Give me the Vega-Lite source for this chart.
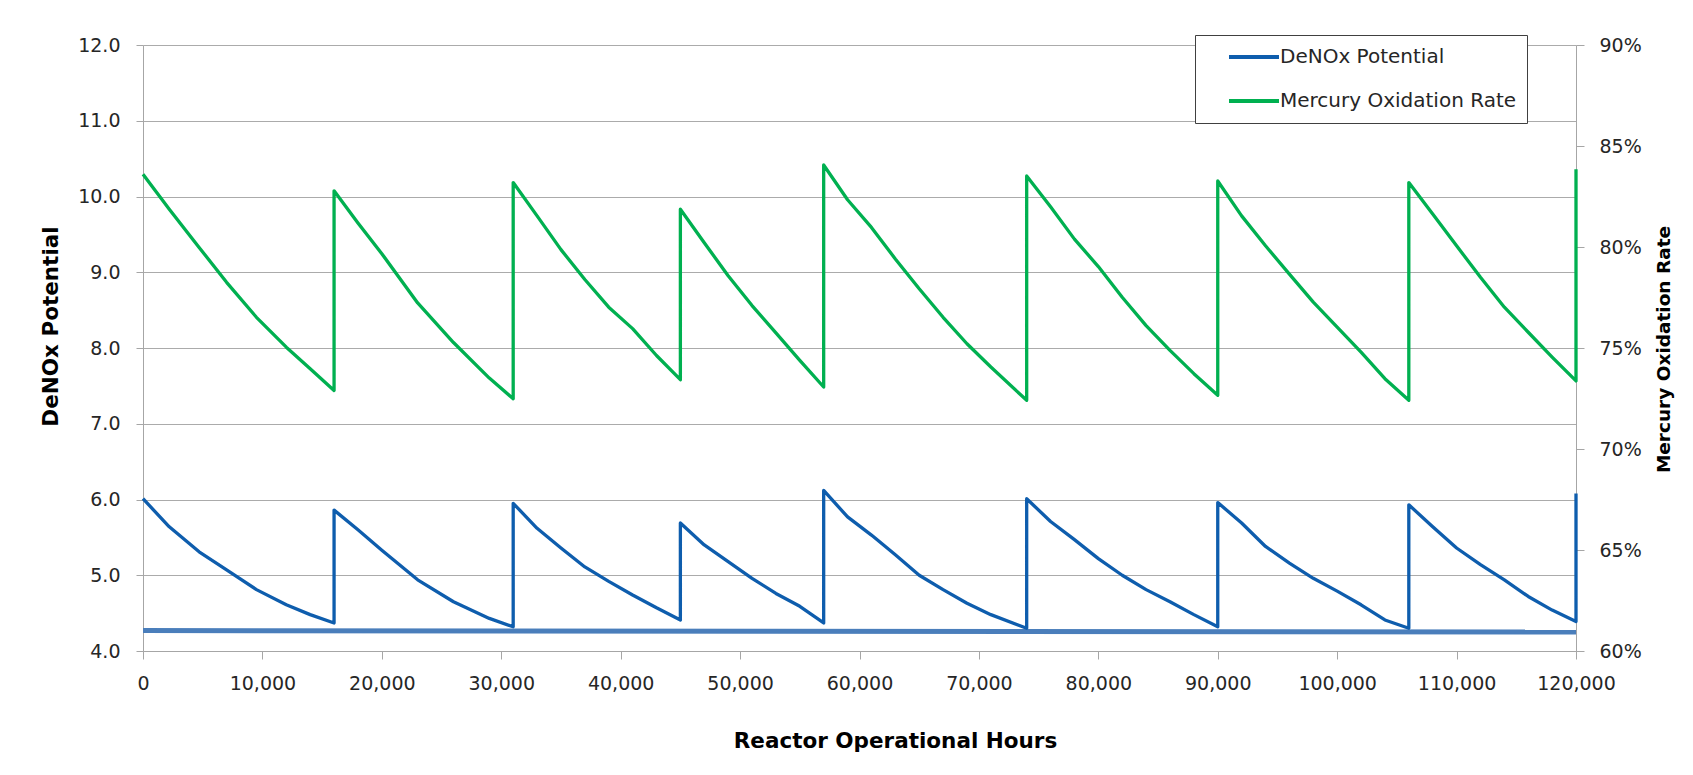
{
  "$schema": "https://vega.github.io/schema/vega-lite/v6.json",
  "width": 1433,
  "height": 606,
  "autosize": {"type": "none"},
  "padding": {"left": 143, "top": 45, "right": 117, "bottom": 124},
  "background": "white",
  "config": {
    "view": {"stroke": null},
    "font": "DejaVu Sans",
    "axis": {
      "labelFont": "DejaVu Sans",
      "labelFontSize": 19,
      "labelColor": "#262626",
      "titleFont": "DejaVu Sans",
      "titleFontSize": 21.5,
      "titleFontWeight": "bold",
      "titleColor": "#000000",
      "domainColor": "#A6A6A6",
      "tickColor": "#A6A6A6",
      "gridColor": "#ABABAB",
      "domainWidth": 1,
      "tickWidth": 1,
      "gridWidth": 1
    }
  },
  "datasets": {
    "denox": [
      {"i": 1, "hours": 0, "value": 6.01},
      {"i": 2, "hours": 2200, "value": 5.64},
      {"i": 3, "hours": 4700, "value": 5.31},
      {"i": 4, "hours": 7000, "value": 5.07},
      {"i": 5, "hours": 9500, "value": 4.81},
      {"i": 6, "hours": 12000, "value": 4.61},
      {"i": 7, "hours": 14000, "value": 4.48},
      {"i": 8, "hours": 16000, "value": 4.37},
      {"i": 9, "hours": 16000, "value": 5.86},
      {"i": 10, "hours": 18000, "value": 5.6},
      {"i": 11, "hours": 20000, "value": 5.33},
      {"i": 12, "hours": 23000, "value": 4.94},
      {"i": 13, "hours": 26000, "value": 4.65},
      {"i": 14, "hours": 29000, "value": 4.43},
      {"i": 15, "hours": 31000, "value": 4.32},
      {"i": 16, "hours": 31000, "value": 5.95},
      {"i": 17, "hours": 33000, "value": 5.62},
      {"i": 18, "hours": 35000, "value": 5.36},
      {"i": 19, "hours": 37000, "value": 5.11},
      {"i": 20, "hours": 39000, "value": 4.92},
      {"i": 21, "hours": 41000, "value": 4.74},
      {"i": 22, "hours": 43000, "value": 4.57},
      {"i": 23, "hours": 45000, "value": 4.41},
      {"i": 24, "hours": 45000, "value": 5.69},
      {"i": 25, "hours": 47000, "value": 5.4},
      {"i": 26, "hours": 49000, "value": 5.18},
      {"i": 27, "hours": 51000, "value": 4.96},
      {"i": 28, "hours": 53000, "value": 4.76},
      {"i": 29, "hours": 55000, "value": 4.59},
      {"i": 30, "hours": 57000, "value": 4.37},
      {"i": 31, "hours": 57000, "value": 6.12},
      {"i": 32, "hours": 59000, "value": 5.77},
      {"i": 33, "hours": 61000, "value": 5.53},
      {"i": 34, "hours": 63000, "value": 5.27},
      {"i": 35, "hours": 65000, "value": 5.0},
      {"i": 36, "hours": 67000, "value": 4.81},
      {"i": 37, "hours": 69000, "value": 4.63},
      {"i": 38, "hours": 71000, "value": 4.48},
      {"i": 39, "hours": 74000, "value": 4.3},
      {"i": 40, "hours": 74000, "value": 6.01},
      {"i": 41, "hours": 76000, "value": 5.71},
      {"i": 42, "hours": 78000, "value": 5.47},
      {"i": 43, "hours": 80000, "value": 5.22},
      {"i": 44, "hours": 82000, "value": 5.0},
      {"i": 45, "hours": 84000, "value": 4.81},
      {"i": 46, "hours": 86000, "value": 4.65},
      {"i": 47, "hours": 88000, "value": 4.48},
      {"i": 48, "hours": 90000, "value": 4.32},
      {"i": 49, "hours": 90000, "value": 5.96},
      {"i": 50, "hours": 92000, "value": 5.69},
      {"i": 51, "hours": 94000, "value": 5.38},
      {"i": 52, "hours": 96000, "value": 5.16},
      {"i": 53, "hours": 98000, "value": 4.96},
      {"i": 54, "hours": 100000, "value": 4.79},
      {"i": 55, "hours": 102000, "value": 4.61},
      {"i": 56, "hours": 104000, "value": 4.41},
      {"i": 57, "hours": 106000, "value": 4.3},
      {"i": 58, "hours": 106000, "value": 5.93},
      {"i": 59, "hours": 108000, "value": 5.64},
      {"i": 60, "hours": 110000, "value": 5.36},
      {"i": 61, "hours": 112000, "value": 5.14},
      {"i": 62, "hours": 114000, "value": 4.94},
      {"i": 63, "hours": 116000, "value": 4.72},
      {"i": 64, "hours": 118000, "value": 4.54},
      {"i": 65, "hours": 120000, "value": 4.39},
      {"i": 66, "hours": 120000, "value": 6.08}
    ],
    "mercury": [
      {"i": 1, "hours": 0, "rate": 0.836},
      {"i": 2, "hours": 2200, "rate": 0.8187},
      {"i": 3, "hours": 4700, "rate": 0.7998},
      {"i": 4, "hours": 7000, "rate": 0.7825},
      {"i": 5, "hours": 9500, "rate": 0.7652},
      {"i": 6, "hours": 12000, "rate": 0.7504},
      {"i": 7, "hours": 14000, "rate": 0.7397},
      {"i": 8, "hours": 16000, "rate": 0.729},
      {"i": 9, "hours": 16000, "rate": 0.8278},
      {"i": 10, "hours": 18000, "rate": 0.8119},
      {"i": 11, "hours": 20000, "rate": 0.7967},
      {"i": 12, "hours": 23000, "rate": 0.7723},
      {"i": 13, "hours": 26000, "rate": 0.7527},
      {"i": 14, "hours": 29000, "rate": 0.7351},
      {"i": 15, "hours": 31000, "rate": 0.7249},
      {"i": 16, "hours": 31000, "rate": 0.8319},
      {"i": 17, "hours": 33000, "rate": 0.8154},
      {"i": 18, "hours": 35000, "rate": 0.7987},
      {"i": 19, "hours": 37000, "rate": 0.7839},
      {"i": 20, "hours": 39000, "rate": 0.7702},
      {"i": 21, "hours": 41000, "rate": 0.7596},
      {"i": 22, "hours": 43000, "rate": 0.7463},
      {"i": 23, "hours": 45000, "rate": 0.7343},
      {"i": 24, "hours": 45000, "rate": 0.8187},
      {"i": 25, "hours": 47000, "rate": 0.8021},
      {"i": 26, "hours": 49000, "rate": 0.7858},
      {"i": 27, "hours": 51000, "rate": 0.771},
      {"i": 28, "hours": 53000, "rate": 0.7575},
      {"i": 29, "hours": 55000, "rate": 0.7439},
      {"i": 30, "hours": 57000, "rate": 0.7307},
      {"i": 31, "hours": 57000, "rate": 0.8406},
      {"i": 32, "hours": 59000, "rate": 0.8234},
      {"i": 33, "hours": 61000, "rate": 0.8097},
      {"i": 34, "hours": 63000, "rate": 0.7941},
      {"i": 35, "hours": 65000, "rate": 0.7793},
      {"i": 36, "hours": 67000, "rate": 0.7652},
      {"i": 37, "hours": 69000, "rate": 0.7521},
      {"i": 38, "hours": 71000, "rate": 0.7406},
      {"i": 39, "hours": 74000, "rate": 0.7241},
      {"i": 40, "hours": 74000, "rate": 0.8352},
      {"i": 41, "hours": 76000, "rate": 0.8199},
      {"i": 42, "hours": 78000, "rate": 0.8039},
      {"i": 43, "hours": 80000, "rate": 0.7903},
      {"i": 44, "hours": 82000, "rate": 0.7751},
      {"i": 45, "hours": 84000, "rate": 0.7611},
      {"i": 46, "hours": 86000, "rate": 0.7488},
      {"i": 47, "hours": 88000, "rate": 0.7373},
      {"i": 48, "hours": 90000, "rate": 0.7266},
      {"i": 49, "hours": 90000, "rate": 0.8327},
      {"i": 50, "hours": 92000, "rate": 0.8154},
      {"i": 51, "hours": 94000, "rate": 0.8006},
      {"i": 52, "hours": 96000, "rate": 0.7866},
      {"i": 53, "hours": 98000, "rate": 0.7727},
      {"i": 54, "hours": 100000, "rate": 0.7603},
      {"i": 55, "hours": 102000, "rate": 0.748},
      {"i": 56, "hours": 104000, "rate": 0.7348},
      {"i": 57, "hours": 106000, "rate": 0.7241},
      {"i": 58, "hours": 106000, "rate": 0.8319},
      {"i": 59, "hours": 108000, "rate": 0.8163},
      {"i": 60, "hours": 110000, "rate": 0.8006},
      {"i": 61, "hours": 112000, "rate": 0.785},
      {"i": 62, "hours": 114000, "rate": 0.7702},
      {"i": 63, "hours": 116000, "rate": 0.7578},
      {"i": 64, "hours": 118000, "rate": 0.7455},
      {"i": 65, "hours": 120000, "rate": 0.7337},
      {"i": 66, "hours": 120000, "rate": 0.8385}
    ],
    "trend": [
      {"hours": 0, "value": 4.27},
      {"hours": 120000, "value": 4.25}
    ]
  },
  "layer": [
    {
      "data": {"name": "trend"},
      "mark": {"type": "line", "stroke": "#4A7EBB", "strokeWidth": 5},
      "encoding": {
        "x": {"field": "hours", "type": "quantitative", "scale": {"domain": [0, 120000], "nice": false},
          "axis": {"title": "Reactor Operational Hours", "values": [0, 10000, 20000, 30000, 40000, 50000, 60000, 70000, 80000, 90000, 100000, 110000, 120000], "format": ",d", "grid": false, "tickSize": 8, "labelPadding": 15, "labelFlush": false, "titleX": 752, "titleY": 90, "titleAlign": "center", "titleBaseline": "middle"}},
        "y": {"field": "value", "type": "quantitative", "scale": {"domain": [4, 12], "nice": false, "zero": false}, "axis": null}
      }
    },
    {
      "data": {"name": "denox"},
      "mark": {"type": "line", "strokeWidth": 3.3, "strokeJoin": "round"},
      "encoding": {
        "x": {"field": "hours", "type": "quantitative", "title": "Reactor Operational Hours"},
        "y": {"field": "value", "type": "quantitative", "scale": {"domain": [4, 12], "nice": false, "zero": false},
          "axis": {"title": "DeNOx Potential", "values": [4, 5, 6, 7, 8, 9, 10, 11, 12], "format": ".1f", "grid": true, "tickSize": 7, "labelPadding": 16, "titleAngle": 270, "titleX": -92, "titleY": 281, "titleAlign": "center", "titleBaseline": "middle"}},
        "order": {"field": "i", "type": "quantitative"},
        "color": {"datum": "DeNOx Potential", "type": "nominal",
          "scale": {"domain": ["DeNOx Potential", "Mercury Oxidation Rate"], "range": ["#0E5DAD", "#00B050"]},
          "legend": {"orient": "none", "legendX": 1052, "legendY": -10, "title": null, "symbolType": "stroke", "symbolSize": 2500, "symbolStrokeWidth": 4, "labelFont": "DejaVu Sans", "labelFontSize": 20, "labelColor": "#262626", "labelLimit": 0, "labelExpr": "datum.label + '\u00a0\u00a0\u00a0\u00a0'", "padding": 10, "clipHeight": 24, "symbolOffset": 22, "labelOffset": -1, "rowPadding": 20, "strokeColor": "#404040", "fillColor": "white"}}
      }
    },
    {
      "data": {"name": "mercury"},
      "mark": {"type": "line", "strokeWidth": 3.3, "strokeJoin": "round"},
      "encoding": {
        "x": {"field": "hours", "type": "quantitative", "title": "Reactor Operational Hours"},
        "y": {"field": "rate", "type": "quantitative", "scale": {"domain": [0.6, 0.9], "nice": false, "zero": false},
          "axis": {"orient": "right", "title": "Mercury Oxidation Rate", "values": [0.6, 0.65, 0.7, 0.75, 0.8, 0.85, 0.9], "format": ".0%", "grid": false, "tickSize": 8, "labelPadding": 15, "titleFontSize": 18.5, "titleAngle": 270, "titleX": 87, "titleY": 304, "titleAlign": "center", "titleBaseline": "middle"}},
        "order": {"field": "i", "type": "quantitative"},
        "color": {"datum": "Mercury Oxidation Rate", "type": "nominal"}
      }
    }
  ],
  "resolve": {"scale": {"y": "independent"}}
}
